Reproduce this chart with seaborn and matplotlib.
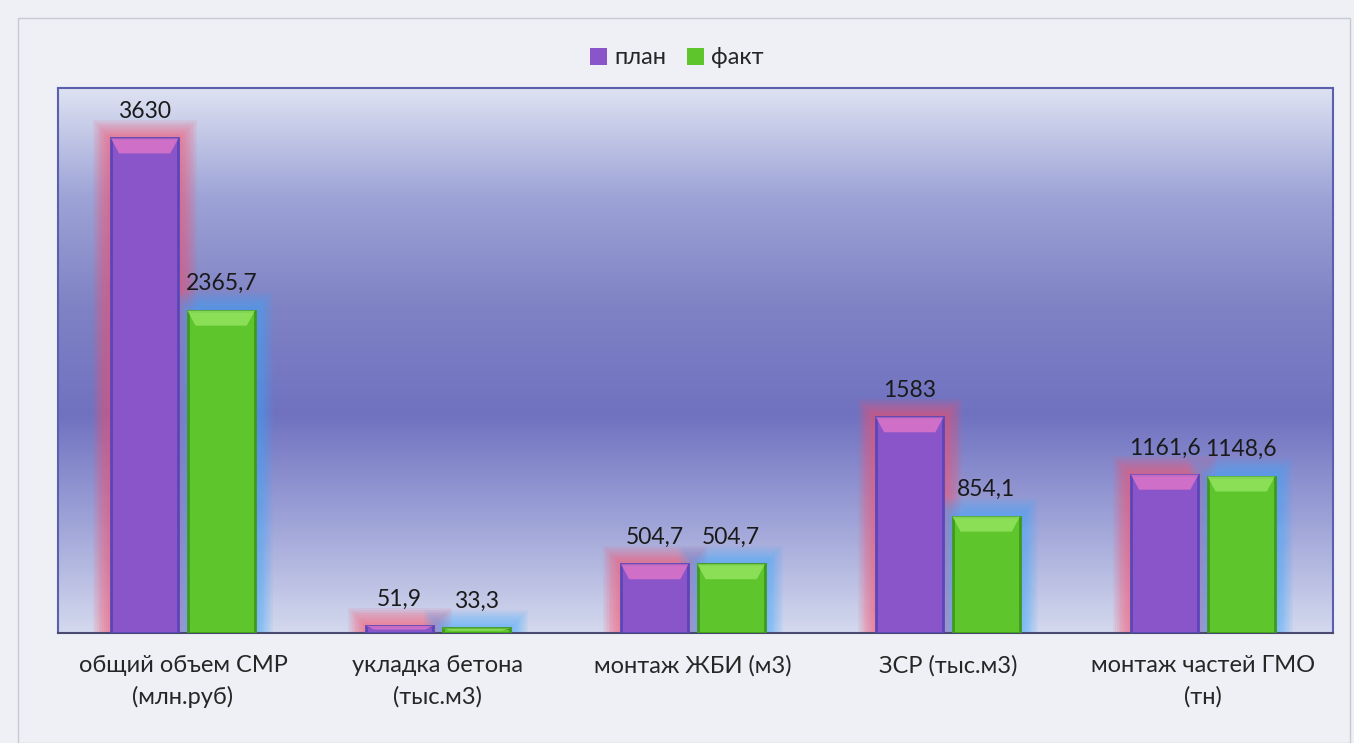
import numpy as np
import pandas as pd
import matplotlib
matplotlib.use("Agg")
import matplotlib.pyplot as plt
import seaborn as sns
from matplotlib.patches import Rectangle, Patch, Polygon
from matplotlib.colors import LinearSegmentedColormap

categories = ["общий объем СМР\n(млн.руб)", "укладка бетона\n(тыс.м3)", "монтаж ЖБИ (м3)",
              "ЗСР (тыс.м3)", "монтаж частей ГМО\n(тн)"]
plan = [3630, 51.9, 504.7, 1583, 1161.6]
fact = [2365.7, 33.3, 504.7, 854.1, 1148.6]
plan_labels = ["3630", "51,9", "504,7", "1583", "1161,6"]
fact_labels = ["2365,7", "33,3", "504,7", "854,1", "1148,6"]
series = ["план", "факт"]

df = pd.DataFrame({
    "cat": categories * 2,
    "val": plan + fact,
    "series": [series[0]] * 5 + [series[1]] * 5,
})

sns.set_style("white")
plt.rcParams["font.family"] = ["Lato", "DejaVu Sans"]

fig = plt.figure(figsize=(13.54, 7.43), dpi=100)
fig.patch.set_facecolor("#eef0f5")
ax = fig.add_axes([58 / 1354, 1 - 633 / 743, 1275 / 1354, 545 / 743])

xlim = (-0.49, 4.51)

# gradient background
cmap = LinearSegmentedColormap.from_list("bg", ["#d4d9ee", "#9fa4d8", "#7072c0", "#7f82c4", "#9da3d6", "#dde2f2"])
grad = np.linspace(0, 1, 256).reshape(-1, 1)
ax.imshow(grad, aspect="auto", cmap=cmap, extent=[xlim[0], xlim[1], 4000, 0], zorder=0)

palette = {"план": "#8a55c8", "факт": "#5ec52c"}
sns.barplot(data=df, x="cat", y="val", hue="series", palette=palette, width=0.6, gap=0.12,
            ax=ax, saturation=1, legend=False, zorder=3, linewidth=0)

ax.set_xlim(*xlim)
ax.set_ylim(0, 4000)

# ratio of x data units to y data units per pixel
yx = (255.0) / (545 / 4000)

glow = {"план": "#ff4d6a", "факт": "#3fa8ff"}
labels = {"план": plan_labels, "факт": fact_labels}
for cont, s in zip(ax.containers, series):
    edge = "#5b46b8" if s == "план" else "#3f9a1c"
    top = "#e878c8" if s == "план" else "#9ae866"
    for bar, lab in zip(cont, labels[s]):
        x, w, h = bar.get_x(), bar.get_width(), bar.get_height()
        for k in range(10):
            pad = 0.004 + k * 0.0075
            ax.add_patch(Rectangle((x - pad, 0), w + 2 * pad, h + pad * yx,
                                   facecolor=glow[s], alpha=0.085, edgecolor="none", zorder=2))
        bar.set_edgecolor(edge)
        bar.set_linewidth(2)
        bh = min(h * 0.5, 110)
        bx = w * 0.12
        ax.add_patch(Polygon([(x, h), (x + w, h), (x + w - bx, h - bh), (x + bx, h - bh)],
                             closed=True, facecolor=top, alpha=0.75, edgecolor="none", zorder=4))
        ax.text(x + w / 2, h + 120, lab, ha="center", va="bottom", fontsize=16.5, color="#1a1a1a", zorder=5)

ax.set_xlabel("")
ax.set_ylabel("")
ax.set_yticks([])
ax.tick_params(axis="x", length=0, labelsize=17, pad=16)
for t in ax.get_xticklabels():
    t.set_linespacing(1.55)
for s in ["top", "left", "right"]:
    ax.spines[s].set_color("#5a5fb0")
    ax.spines[s].set_linewidth(1.5)
ax.spines["bottom"].set_color("#4a4a70")
ax.spines["bottom"].set_linewidth(1.5)

# legend
handles = [Patch(facecolor=palette[s], edgecolor="none") for s in series]
fig.legend(handles, series, loc="center", bbox_to_anchor=(0.5, 1 - 58 / 743), ncol=2, frameon=False,
           fontsize=17, handlelength=0.7, handleheight=0.7, handletextpad=0.3, columnspacing=0.9)

fig.add_artist(Rectangle((18 / 1354, 0.0), 1 - 18 / 1354 - 4 / 1354, 1 - 18 / 743, transform=fig.transFigure,
                         fill=False, edgecolor="#c8cad2", linewidth=1))

fig.savefig("out.png", dpi=100, facecolor=fig.get_facecolor())
